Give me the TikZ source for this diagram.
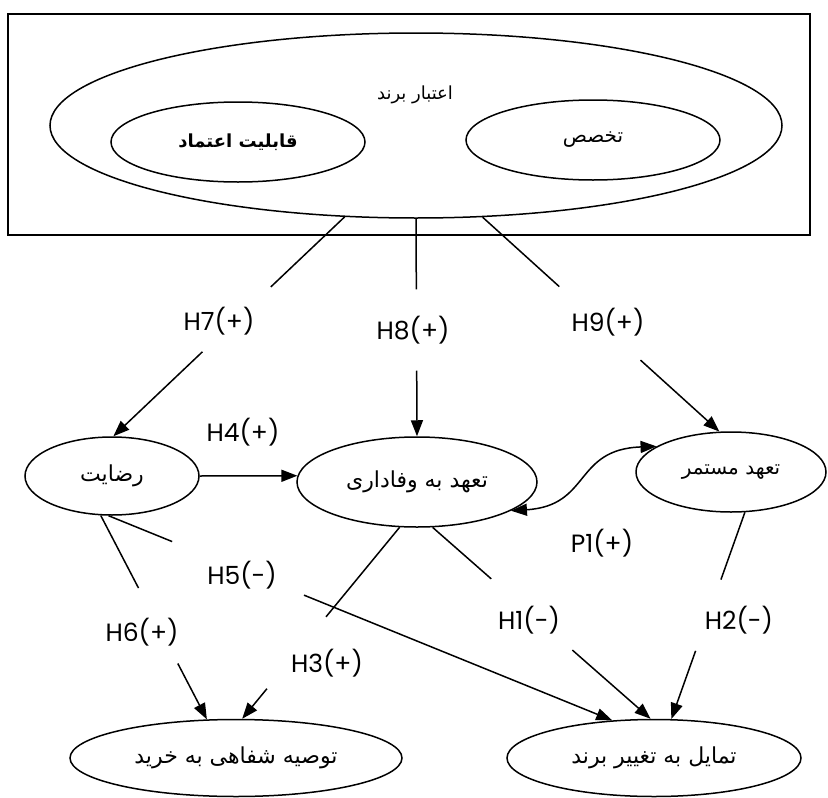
\documentclass[tikz,border=0pt]{standalone}
\usepackage{fontspec}
\usetikzlibrary{shapes.geometric,arrows.meta}
\newfontfamily\labfont{Poppins}
\newfontfamily\fafont[Script=Arabic]{DejaVu Sans}
\TeXXeTstate=1
\newcommand{\rtl}[1]{\beginR #1\endR}

\begin{document}
\begin{tikzpicture}[x=1pt, y=-1pt,
    oval/.style={draw, ellipse, line width=1.5pt, inner sep=0pt,
      font=\fafont\fontsize{22}{26}\selectfont},
    hyp/.style={font=\labfont\fontsize{25}{28}\selectfont, inner sep=0pt},
    link/.style={line width=1.5pt},
    >={Triangle[length=16pt,width=12pt]}]
\useasboundingbox (0,0) rectangle (828,798);

% Brand credibility
\draw[line width=1.5pt] (8,14) rectangle (810,235);
\node[oval, minimum width=732pt, minimum height=185pt] (brand) at (416,125.5) {};
\node[font=\fafont\fontsize{18}{22}\selectfont] (brandtxt) at (415,95) {\rtl{اعتبار برند}};
\node[oval, minimum width=254pt, minimum height=80pt,
  font=\fafont\bfseries\fontsize{18}{22}\selectfont] (trust) at (238,142) {\rtl{قابلیت اعتماد}};
\node[oval, minimum width=254pt, minimum height=80pt,
  font=\fafont\fontsize{20}{24}\selectfont] (expert) at (593,140) {\rtl{تخصص}};

% Middle row
\node[oval, minimum width=174pt, minimum height=78pt] (sat) at (112,476) {\rtl{رضایت}};
\node[oval, minimum width=240pt, minimum height=90pt] (loyal) at (417,482) {\rtl{تعهد به وفاداری}};
\node[oval, minimum width=190pt, minimum height=80pt,
  font=\fafont\fontsize{20}{24}\selectfont] (cont) at (731,472) {\rtl{تعهد مستمر}};

% Outcomes
\node[oval, minimum width=332pt, minimum height=77pt] (advice) at (236,758) {\rtl{توصیه شفاهی به خرید}};
\node[oval, minimum width=294pt, minimum height=77pt] (switch) at (654,758) {\rtl{تمایل به تغییر برند}};

% Hypothesis labels
\node[hyp] (h7) at (219,321) {H7(+)};
\node[hyp] (h8) at (413,330) {H8(+)};
\node[hyp] (h9) at (608,322) {H9(+)};
\node[hyp] (h4) at (243,432) {H4(+)};
\node[hyp] (p1) at (602,543) {P1(+)};
\node[hyp] (h5) at (242,575) {H5(-)};
\node[hyp] (h6) at (142,632) {H6(+)};
\node[hyp] (h3) at (327,663) {H3(+)};
\node[hyp] (h1) at (529,620) {H1(-)};
\node[hyp] (h2) at (739,620) {H2(-)};

% H7
\draw[link, shorten >=217pt] (brand.232) -- (sat.88);
\draw[link, ->, shorten <=196pt] (brand.232) -- (sat.88);
% H8
\draw[link, shorten >=147pt] (brand.270) -- (loyal.90);
\draw[link, ->, shorten <=152pt] (brand.270) -- (loyal.90);
% H9
\draw[link, shorten >=216pt] (brand.306) -- (cont.106);
\draw[link, ->, shorten <=213pt] (brand.306) -- (cont.106);
% H4
\draw[link, ->] (sat.east) -- (loyal.177);
% P1
\draw[link, <->] (loyal.343) .. controls +(80,-5) and +(-83,3) .. (cont.161);
% H6
\draw[link, shorten >=148pt] (sat.254) -- (advice.127);
\draw[link, ->, shorten <=167pt] (sat.254) -- (advice.127);
% H5
\draw[link, shorten >=475pt] (sat.265) -- (switch.138);
\draw[link, ->, shorten <=211pt] (sat.265) -- (switch.138);
% H3
\draw[link, shorten >=132pt] (loyal.249) -- (advice.81);
\draw[link, ->, shorten <=209pt] (loyal.249) -- (advice.81);
% H1
\draw[link, shorten >=212pt] (loyal.289) -- (switch.95);
\draw[link, ->, shorten <=186pt] (loyal.289) -- (switch.95);
% H2
\draw[link, shorten >=148pt] (cont.289) -- (switch.66);
\draw[link, ->, shorten <=147pt] (cont.289) -- (switch.66);
\end{tikzpicture}
\end{document}
